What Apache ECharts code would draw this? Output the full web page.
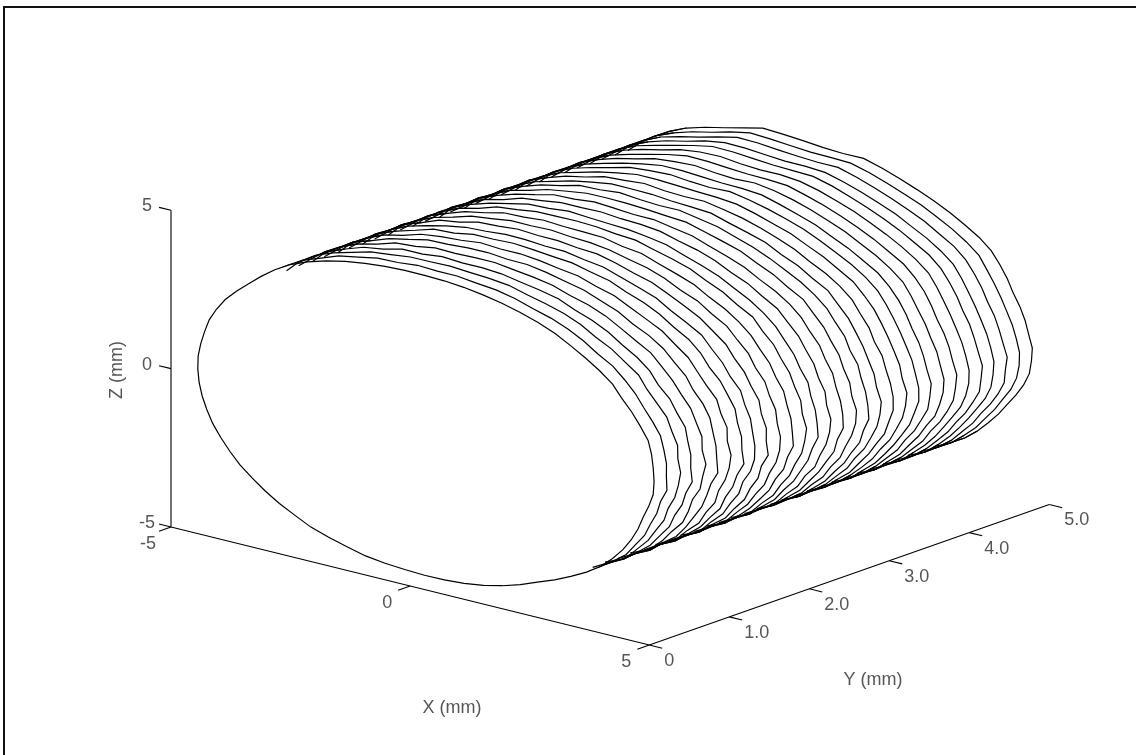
<!DOCTYPE html>
<html>
<head>
<meta charset="utf-8">
<style>
  html, body { margin: 0; padding: 0; background: #fff; }
  #main { width: 1136px; height: 755px; }
</style>
<script src="https://cdn.jsdelivr.net/npm/echarts@6/dist/echarts.min.js"></script>
</head>
<body>
<div id="main"></div>
<script>
// tick values
const xTicks = [-5, 0, 5]
const yTicks = [0, 1, 2, 3, 4, 5]
const zTicks = [-5, 0, 5]
const xTickLabels = ['-5', '0', '5']
const yTickLabels = ['0', '1.0', '2.0', '3.0', '4.0', '5.0']
const zTickLabels = ['-5', '0', '5']

// tube cross sections: Y of each slice (mm)
const sliceY = [0, 0.16, 0.32, 0.47, 0.63, 0.79, 0.95, 1.11, 1.26, 1.42, 1.58, 1.74, 1.9, 2.05, 2.21, 2.37,
  2.53, 2.69, 2.84, 3.0, 3.16, 3.32, 3.47, 3.63, 3.79, 3.95, 4.11, 4.26, 4.42, 4.58, 4.74]

// section centre in the XZ plane (mm)
const centerX = 0.3
const centerZ = 0.2

// angle around the centre (deg) for the part of each section that shows
const visibleAngles = [-55, -50, -45, -40, -35, -30, -25, -20, -15, -10, -5, 0, 5, 10, 15, 20, 25, 30, 35, 40,
  45, 50, 55, 60, 65, 70, 75, 80, 85, 90, 95, 100, 105, 110, 115, 120, 125, 130, 135, 140]

// radius (mm) at visibleAngles, one row per slice, front to back
const sliceRadii = [
  [4.74,4.76,4.79,4.81,4.80,4.79,4.77,4.75,4.73,4.76,4.80,4.80,4.80,4.82,4.84,4.80,4.78,4.76,4.80,4.78,4.76,4.75,4.76,4.75,4.74,4.73,4.72,4.72,4.72,4.72,4.74,4.77,4.80,4.84,4.87,4.89,4.90,4.87,4.83,4.80],
  [4.75,4.74,4.78,4.79,4.82,4.78,4.78,4.74,4.75,4.74,4.82,4.79,4.81,4.81,4.83,4.79,4.76,4.78,4.78,4.79,4.74,4.76,4.76,4.75,4.72,4.74,4.74,4.71,4.73,4.71,4.76,4.75,4.82,4.83,4.88,4.87,4.90,4.87,4.85,4.80],
  [4.73,4.76,4.77,4.82,4.78,4.78,4.75,4.76,4.72,4.77,4.79,4.82,4.78,4.83,4.80,4.82,4.77,4.75,4.81,4.77,4.77,4.73,4.76,4.76,4.73,4.71,4.74,4.72,4.70,4.73,4.73,4.78,4.79,4.85,4.85,4.89,4.91,4.86,4.83,4.82],
  [4.76,4.75,4.79,4.78,4.80,4.77,4.78,4.73,4.76,4.75,4.83,4.78,4.80,4.79,4.83,4.78,4.79,4.74,4.79,4.78,4.74,4.76,4.75,4.72,4.76,4.73,4.71,4.73,4.72,4.70,4.76,4.74,4.83,4.81,4.88,4.88,4.89,4.86,4.85,4.79],
  [4.74,4.77,4.76,4.81,4.79,4.76,4.79,4.75,4.71,4.78,4.78,4.83,4.77,4.82,4.79,4.80,4.76,4.77,4.77,4.80,4.75,4.74,4.76,4.75,4.71,4.74,4.72,4.71,4.74,4.72,4.72,4.79,4.78,4.86,4.84,4.90,4.90,4.88,4.83,4.81],
  [4.76,4.75,4.80,4.77,4.81,4.78,4.75,4.76,4.74,4.74,4.83,4.79,4.79,4.78,4.81,4.79,4.74,4.78,4.76,4.79,4.77,4.72,4.75,4.73,4.75,4.72,4.73,4.74,4.70,4.74,4.75,4.76,4.84,4.83,4.87,4.86,4.91,4.86,4.85,4.79],
  [4.73,4.77,4.75,4.80,4.76,4.79,4.74,4.77,4.72,4.77,4.80,4.82,4.76,4.81,4.77,4.81,4.75,4.75,4.79,4.76,4.78,4.74,4.73,4.76,4.72,4.75,4.71,4.72,4.73,4.71,4.77,4.75,4.80,4.85,4.83,4.90,4.89,4.87,4.83,4.81],
  [4.77,4.74,4.79,4.77,4.78,4.75,4.77,4.72,4.75,4.75,4.84,4.78,4.79,4.76,4.80,4.77,4.77,4.73,4.78,4.79,4.74,4.76,4.75,4.72,4.76,4.73,4.75,4.71,4.72,4.75,4.74,4.79,4.77,4.87,4.85,4.88,4.90,4.86,4.85,4.79],
  [4.74,4.76,4.76,4.79,4.75,4.77,4.73,4.75,4.71,4.78,4.81,4.80,4.77,4.78,4.75,4.79,4.73,4.76,4.76,4.81,4.76,4.73,4.77,4.74,4.73,4.76,4.72,4.74,4.70,4.73,4.76,4.76,4.82,4.84,4.86,4.90,4.89,4.88,4.83,4.81],
  [4.76,4.74,4.78,4.75,4.78,4.74,4.76,4.72,4.76,4.74,4.83,4.77,4.79,4.74,4.78,4.74,4.76,4.74,4.79,4.77,4.78,4.75,4.74,4.76,4.72,4.74,4.76,4.71,4.73,4.72,4.78,4.78,4.84,4.82,4.89,4.87,4.91,4.86,4.85,4.79],
  [4.73,4.77,4.75,4.78,4.74,4.75,4.72,4.75,4.73,4.78,4.80,4.80,4.75,4.77,4.73,4.76,4.72,4.77,4.76,4.80,4.75,4.77,4.72,4.75,4.75,4.72,4.74,4.73,4.71,4.75,4.75,4.81,4.81,4.86,4.85,4.89,4.89,4.88,4.83,4.81],
  [4.76,4.74,4.78,4.76,4.75,4.73,4.74,4.71,4.76,4.75,4.82,4.78,4.77,4.74,4.76,4.72,4.75,4.74,4.78,4.78,4.77,4.73,4.76,4.73,4.72,4.76,4.71,4.75,4.72,4.72,4.78,4.78,4.85,4.83,4.88,4.88,4.90,4.86,4.85,4.79],
  [4.73,4.76,4.75,4.77,4.73,4.75,4.71,4.74,4.73,4.78,4.79,4.81,4.74,4.76,4.72,4.74,4.72,4.76,4.75,4.81,4.75,4.76,4.73,4.76,4.74,4.73,4.77,4.72,4.74,4.75,4.76,4.81,4.81,4.87,4.84,4.90,4.89,4.87,4.83,4.81],
  [4.75,4.74,4.77,4.74,4.75,4.71,4.73,4.72,4.75,4.75,4.82,4.78,4.76,4.72,4.75,4.71,4.74,4.74,4.78,4.78,4.77,4.74,4.75,4.73,4.72,4.76,4.74,4.73,4.71,4.73,4.79,4.78,4.85,4.84,4.87,4.89,4.90,4.87,4.84,4.80],
  [4.73,4.76,4.74,4.76,4.72,4.74,4.70,4.75,4.73,4.77,4.79,4.80,4.73,4.75,4.70,4.73,4.72,4.76,4.76,4.80,4.75,4.76,4.72,4.75,4.75,4.73,4.77,4.75,4.72,4.76,4.76,4.82,4.82,4.87,4.84,4.90,4.88,4.88,4.82,4.81],
  [4.75,4.74,4.76,4.73,4.74,4.71,4.72,4.72,4.76,4.74,4.81,4.78,4.75,4.71,4.73,4.70,4.74,4.73,4.78,4.79,4.77,4.73,4.75,4.73,4.72,4.76,4.74,4.76,4.71,4.74,4.80,4.79,4.86,4.84,4.87,4.89,4.91,4.85,4.85,4.78],
  [4.73,4.76,4.74,4.75,4.71,4.73,4.70,4.74,4.73,4.77,4.80,4.80,4.72,4.73,4.69,4.72,4.71,4.75,4.76,4.81,4.75,4.76,4.73,4.76,4.74,4.74,4.78,4.73,4.73,4.75,4.78,4.83,4.83,4.86,4.85,4.90,4.88,4.87,4.81,4.82],
  [4.75,4.73,4.76,4.73,4.73,4.70,4.72,4.71,4.76,4.75,4.81,4.77,4.74,4.70,4.72,4.68,4.73,4.73,4.78,4.78,4.77,4.74,4.74,4.74,4.73,4.76,4.75,4.77,4.71,4.73,4.81,4.80,4.87,4.84,4.88,4.89,4.91,4.84,4.85,4.79],
  [4.73,4.76,4.74,4.74,4.71,4.72,4.69,4.73,4.74,4.78,4.79,4.80,4.72,4.72,4.69,4.70,4.71,4.75,4.76,4.81,4.75,4.76,4.72,4.76,4.74,4.74,4.79,4.74,4.72,4.76,4.79,4.85,4.84,4.86,4.86,4.90,4.89,4.87,4.82,4.81],
  [4.75,4.74,4.76,4.72,4.73,4.70,4.71,4.71,4.76,4.76,4.80,4.78,4.74,4.70,4.71,4.67,4.72,4.73,4.79,4.79,4.77,4.73,4.75,4.74,4.75,4.76,4.76,4.78,4.72,4.73,4.82,4.82,4.87,4.84,4.88,4.89,4.91,4.85,4.84,4.80],
  [4.73,4.75,4.75,4.73,4.71,4.71,4.69,4.73,4.74,4.78,4.79,4.80,4.72,4.72,4.69,4.69,4.71,4.75,4.77,4.80,4.76,4.75,4.73,4.75,4.74,4.76,4.79,4.76,4.73,4.75,4.80,4.86,4.85,4.86,4.86,4.90,4.89,4.87,4.82,4.81],
  [4.75,4.74,4.76,4.72,4.72,4.70,4.70,4.71,4.75,4.76,4.80,4.78,4.73,4.71,4.68,4.68,4.70,4.74,4.79,4.79,4.77,4.74,4.74,4.75,4.75,4.76,4.78,4.80,4.72,4.74,4.82,4.84,4.88,4.85,4.87,4.90,4.90,4.85,4.85,4.79],
  [4.73,4.75,4.75,4.73,4.70,4.71,4.68,4.72,4.74,4.79,4.78,4.79,4.72,4.70,4.69,4.67,4.71,4.75,4.78,4.80,4.76,4.75,4.73,4.75,4.75,4.77,4.81,4.77,4.73,4.75,4.81,4.87,4.86,4.86,4.87,4.90,4.89,4.87,4.83,4.80],
  [4.75,4.74,4.76,4.72,4.72,4.69,4.70,4.70,4.76,4.77,4.79,4.79,4.73,4.71,4.67,4.68,4.69,4.74,4.80,4.79,4.77,4.74,4.75,4.74,4.76,4.78,4.80,4.80,4.72,4.74,4.83,4.85,4.88,4.85,4.88,4.90,4.91,4.85,4.85,4.79],
  [4.73,4.76,4.74,4.73,4.70,4.71,4.68,4.72,4.75,4.79,4.78,4.79,4.72,4.70,4.68,4.66,4.70,4.75,4.78,4.80,4.76,4.75,4.74,4.74,4.76,4.78,4.82,4.77,4.73,4.75,4.82,4.89,4.87,4.85,4.87,4.90,4.89,4.87,4.83,4.81],
  [4.75,4.74,4.76,4.72,4.71,4.70,4.69,4.71,4.76,4.78,4.79,4.78,4.73,4.70,4.67,4.67,4.69,4.74,4.80,4.79,4.77,4.75,4.74,4.75,4.76,4.79,4.81,4.78,4.72,4.74,4.83,4.87,4.88,4.85,4.88,4.91,4.90,4.86,4.84,4.80],
  [4.73,4.76,4.75,4.73,4.70,4.70,4.68,4.72,4.75,4.80,4.78,4.79,4.72,4.69,4.68,4.66,4.70,4.74,4.79,4.80,4.76,4.75,4.74,4.74,4.76,4.80,4.83,4.76,4.73,4.76,4.83,4.90,4.87,4.85,4.87,4.91,4.90,4.87,4.83,4.81],
  [4.75,4.74,4.76,4.73,4.71,4.69,4.69,4.71,4.76,4.79,4.78,4.78,4.73,4.70,4.67,4.67,4.69,4.74,4.80,4.79,4.77,4.74,4.75,4.74,4.76,4.79,4.82,4.77,4.72,4.75,4.82,4.89,4.88,4.85,4.88,4.90,4.90,4.86,4.84,4.80],
  [4.73,4.76,4.75,4.74,4.70,4.70,4.68,4.72,4.76,4.80,4.77,4.79,4.72,4.69,4.68,4.66,4.70,4.74,4.79,4.80,4.76,4.76,4.74,4.74,4.76,4.80,4.84,4.75,4.73,4.76,4.84,4.91,4.87,4.84,4.87,4.91,4.90,4.87,4.83,4.81],
  [4.75,4.75,4.76,4.73,4.72,4.69,4.70,4.71,4.76,4.79,4.79,4.78,4.73,4.70,4.67,4.67,4.69,4.73,4.80,4.79,4.77,4.75,4.75,4.74,4.76,4.80,4.83,4.76,4.72,4.75,4.82,4.91,4.88,4.85,4.88,4.90,4.91,4.86,4.84,4.80],
  [4.74,4.75,4.76,4.74,4.71,4.70,4.69,4.72,4.76,4.79,4.78,4.78,4.72,4.70,4.68,4.66,4.70,4.74,4.79,4.79,4.76,4.75,4.74,4.74,4.76,4.80,4.84,4.74,4.72,4.76,4.83,4.92,4.87,4.85,4.88,4.91,4.90,4.87,4.84,4.80]
]

// rest of the front section, which is the only one seen all the way round
const frontLowerAngles = [145, 150, 155, 160, 165, 170, 175, 180, 185, 190, 195, 200, 205, 210, 215, 220,
  225, 230, 235, 240, 245, 250, 255, 260, 265, 270, 275, 280, 285, 290, 295, 300]
const frontLowerRadii = [4.80, 4.81, 4.80, 4.79, 4.76, 4.75, 4.75, 4.74, 4.73, 4.72, 4.71, 4.71, 4.70, 4.70, 4.71, 4.70,
  4.71, 4.72, 4.72, 4.75, 4.74, 4.74, 4.76, 4.75, 4.74, 4.75, 4.76, 4.77, 4.77, 4.76, 4.74, 4.72]

// 3d view: where the box corner sits on the page and where each mm goes
const origin = [171, 527]    // x=-5, y=0, z=-5
const perX = [47.83, 11.8]
const perY = [80, -28.1]
const perZ = [0, -31.67]

function project(x, y, z) {
  return [
    origin[0] + (x + 5) * perX[0] + y * perY[0] + (z + 5) * perZ[0],
    origin[1] + (x + 5) * perX[1] + y * perY[1] + (z + 5) * perZ[1]
  ]
}

function sectionPoints(y, angles, radii) {
  return angles.map((a, i) => {
    const t = a * Math.PI / 180
    return project(centerX + radii[i] * Math.cos(t), y, centerZ + radii[i] * Math.sin(t))
  })
}

// back to front so the white faces hide what is behind them
const slices = sliceY.map((y, i) => {
  const pts = sectionPoints(y, visibleAngles, sliceRadii[i])
  return i === 0 ? pts.concat(sectionPoints(y, frontLowerAngles, frontLowerRadii)) : pts
}).reverse()

// ends of each section where it turns behind the next one, these show through along the edges of the tube
const edgeAngleCount = { low: 4, high: 5 }
const edgeTraces = []
sliceY.forEach((y, i) => {
  if (i < 3) return   // would poke into the front face
  const pts = sectionPoints(y, visibleAngles, sliceRadii[i])
  edgeTraces.push(pts.slice(0, edgeAngleCount.low))
  edgeTraces.push(pts.slice(pts.length - edgeAngleCount.high))
})

const axisLine = { color: '#000', width: 1.1 }
const textColor = '#2a2a2a'
const fontFamily = 'Liberation Sans, Arial, sans-serif'
const fontSize = 18

function lineSeries(data) {
  return { type: 'line', data, showSymbol: false, silent: true, lineStyle: axisLine, animation: false, z: 1 }
}

function textSeries(items) {
  return {
    type: 'scatter',
    symbolSize: 0,
    silent: true,
    animation: false,
    z: 5,
    data: items.map(it => ({
      value: it.pos,
      label: {
        show: true,
        position: 'inside',
        formatter: it.text,
        color: textColor,
        fontFamily,
        fontSize,
        align: it.align || 'center',
        verticalAlign: 'middle',
        rotate: it.rotate || 0
      }
    }))
  }
}

const series = []

// the slices
series.push({
  type: 'custom',
  silent: true,
  animation: false,
  clip: false,
  z: 3,
  coordinateSystem: 'cartesian2d',
  data: slices.map((_, i) => [i]),
  renderItem: (params, api) => {
    const pts = slices[api.value(0)].map(p => api.coord(p))
    const closed = api.value(0) === slices.length - 1
    return {
      type: 'group',
      children: [
        { type: 'polygon', shape: { points: pts }, style: { fill: '#fff', stroke: null } },
        {
          type: closed ? 'polygon' : 'polyline',
          shape: { points: pts },
          style: { fill: closed ? 'transparent' : null, stroke: '#000', lineWidth: 1.2 }
        }
      ]
    }
  }
})

// section ends on top of the faces
series.push({
  type: 'custom',
  silent: true,
  animation: false,
  clip: false,
  z: 4,
  coordinateSystem: 'cartesian2d',
  data: edgeTraces.map((_, i) => [i]),
  renderItem: (params, api) => ({
    type: 'polyline',
    shape: { points: edgeTraces[api.value(0)].map(p => api.coord(p)) },
    style: { fill: null, stroke: '#000', lineWidth: 1.2 }
  })
})

// box edges
series.push(lineSeries([
  project(-5, 0, 5), project(-5, 0, -5), project(5, 0, -5), project(5, 5, -5)
]))

// tick marks, they run along a neighbouring axis
zTicks.forEach(z => series.push(lineSeries([project(-5, 0, z), project(-5.25, 0, z)])))
xTicks.forEach(x => series.push(lineSeries([project(x, 0, -5), project(x, -0.15, -5)])))
yTicks.forEach(y => series.push(lineSeries([project(5, y, -5), project(5.27, y, -5)])))

// tick labels
const labelItems = []
zTicks.forEach((z, i) => {
  const p = project(-5, 0, z)
  labelItems.push({ pos: [p[0] - 24, p[1] - 4], text: zTickLabels[i] })
})
xTicks.forEach((x, i) => {
  const p = project(x, 0, -5)
  labelItems.push({ pos: [p[0] - 23, p[1] + 17], text: xTickLabels[i] })
})
yTicks.forEach((y, i) => {
  const p = project(5, y, -5)
  labelItems.push({ pos: [p[0] + 15, p[1] + 16], text: yTickLabels[i], align: 'left' })
})
// axis titles
labelItems.push({ pos: [452, 708], text: 'X (mm)' })
labelItems.push({ pos: [873, 680], text: 'Y (mm)' })
labelItems.push({ pos: [117, 370], text: 'Z (mm)', rotate: 90 })
series.push(textSeries(labelItems))

const chart = echarts.init(document.getElementById('main'), null, { renderer: 'canvas' })
chart.setOption({
  backgroundColor: '#fff',
  animation: false,
  grid: { left: 0, right: 0, top: 0, bottom: 0 },
  xAxis: { type: 'value', min: 0, max: 1136, show: false },
  yAxis: { type: 'value', min: 0, max: 755, inverse: true, show: false },
  graphic: [
    { type: 'line', shape: { x1: 4, y1: 7, x2: 1136, y2: 7 }, style: { stroke: '#111', lineWidth: 2 } },
    { type: 'line', shape: { x1: 4, y1: 6, x2: 4, y2: 755 }, style: { stroke: '#111', lineWidth: 2 } }
  ],
  series
})
</script>
</body>
</html>
